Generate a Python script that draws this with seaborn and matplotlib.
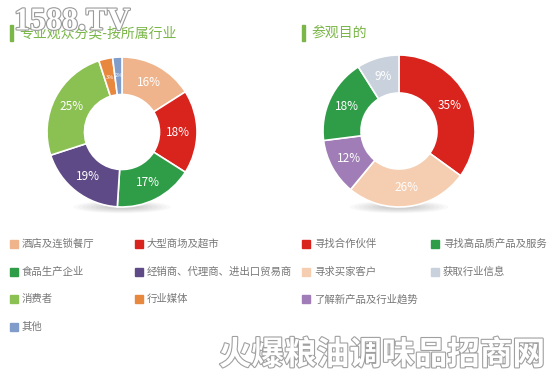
import matplotlib
matplotlib.use("Agg")
import matplotlib.pyplot as plt
import matplotlib.patheffects as pe
from matplotlib.patches import Rectangle, Ellipse
import seaborn as sns

sns.set_theme(style="white")
plt.rcParams['font.family'] = ['Noto Sans CJK SC', 'DejaVu Sans']

# ---- data ----
left_title = "专业观众分类-按所属行业"
left_cats = ["酒店及连锁餐厅", "大型商场及超市", "食品生产企业", "经销商、代理商、进出口贸易商",
             "消费者", "行业媒体", "其他"]
left_vals = [16, 18, 17, 19, 25, 3, 2]
left_colors = ["#f0b48c", "#d9231d", "#2f9d48", "#5e4a86", "#8bc152", "#e8883f", "#809ccb"]

right_title = "参观目的"
right_cats = ["寻找合作伙伴", "寻求买家客户", "了解新产品及行业趋势", "寻找高品质产品及服务", "获取行业信息"]
right_vals = [35, 26, 12, 18, 9]
right_colors = ["#d9231d", "#f5cdb0", "#a07db6", "#2f9d48", "#c9d1dc"]
# legend order (row-major) for the right chart
right_legend_order = [0, 3, 1, 4, 2]

W, H = 550, 375
fig = plt.figure(figsize=(5.5, 3.75), dpi=100)
fig.patch.set_facecolor("white")

def fx(x): return x / W
def fy(y): return 1 - y / H

def donut(cx, cy, r, vals, colors):
    # soft shadow
    sh = fig.add_axes([fx(cx - r), fy(cy + r + 14), 2 * r / W, 28 / H])
    sh.set_axis_off()
    sh.set_xlim(-1, 1); sh.set_ylim(-1, 1)
    for k in range(8):
        sh.add_patch(Ellipse((0, 0), 1.3 - k * 0.12, 0.9 - k * 0.09,
                             color="#000000", alpha=0.025, lw=0))
    ax = fig.add_axes([fx(cx - r), fy(cy + r), 2 * r / W, 2 * r / H])
    wedges, texts, autotexts = ax.pie(
        vals, colors=colors, startangle=90, counterclock=False,
        radius=1.0, autopct=lambda p: f"{p:.0f}%", pctdistance=0.75,
        wedgeprops=dict(width=0.5, edgecolor="white", linewidth=1.2),
        textprops=dict(color="white", fontsize=8.5))
    for v, t in zip(vals, autotexts):
        if v < 5:
            t.set_fontsize(4)
    ax.set_xlim(-1, 1); ax.set_ylim(-1, 1)
    ax.set_aspect("equal")
    return ax

donut(122, 132, 75, left_vals, left_colors)
donut(399, 131, 76, right_vals, right_colors)

# titles
fig.add_artist(Rectangle((fx(10), fy(41)), 3 / W, 16 / H, color="#7ab648", transform=fig.transFigure))
fig.text(fx(19), fy(33), left_title, color="#7ab648", fontsize=10, va="center", ha="left")
fig.add_artist(Rectangle((fx(302), fy(41)), 3 / W, 16 / H, color="#7ab648", transform=fig.transFigure))
fig.text(fx(311), fy(33), right_title, color="#7ab648", fontsize=10, va="center", ha="left")

# legends
def legend(items, colors, x0s, y0, dy):
    for i, (lab, col) in enumerate(zip(items, colors)):
        row, c = divmod(i, 2)
        x = x0s[c]
        y = y0 + row * dy
        fig.add_artist(Rectangle((fx(x), fy(y + 4)), 8 / W, 8 / H, color=col,
                                 transform=fig.transFigure))
        fig.text(fx(x + 12), fy(y), lab, color="#777777", fontsize=7.5, va="center", ha="left")

legend(left_cats, left_colors, [10, 135], 244, 27.5)
legend([right_cats[i] for i in right_legend_order],
       [right_colors[i] for i in right_legend_order], [302, 431], 244, 27.5)

# watermarks
fig.text(fx(14), fy(22), "1588.TV", fontsize=23, family="Liberation Serif", weight="bold",
         color="white", va="center", ha="left",
         path_effects=[pe.withStroke(linewidth=1.6, foreground="#9a9a9a")])
fig.text(fx(545), fy(355), "火爆粮油调味品招商网", fontsize=23.5, weight="bold",
         color="white", va="center", ha="right",
         path_effects=[pe.withStroke(linewidth=1.6, foreground="#a0a0a0")])

fig.savefig("out.png", dpi=100, facecolor="white")
